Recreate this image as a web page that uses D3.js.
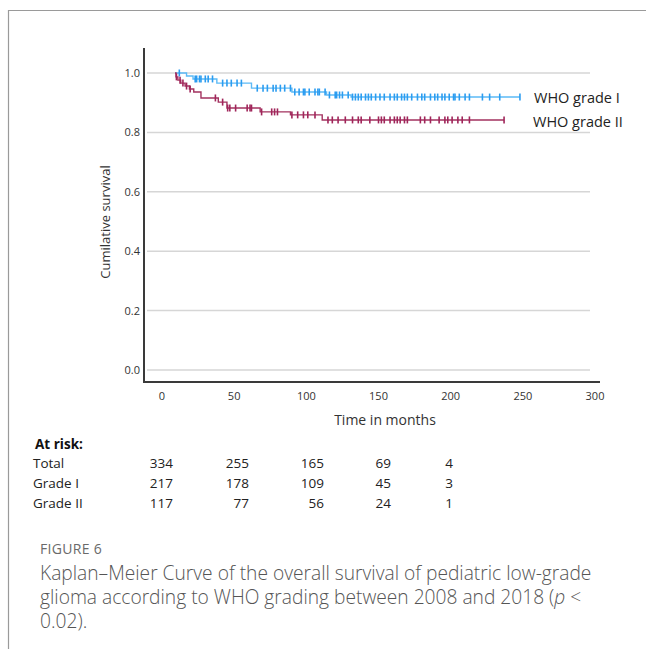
<!DOCTYPE html>
<html lang="en">
<head>
<meta charset="utf-8">
<title>Kaplan–Meier curve by WHO grade</title>
<script src="https://d3js.org/d3.v7.min.js"></script>
<style>
  html,body{margin:0;background:#fff}
  svg{display:block}
  .tick-lab{font:11px "Open Sans",sans-serif;fill:#333}
  .ax-lab{font:13px "Open Sans",sans-serif;fill:#333}
  .leg{font:14.5px "Open Sans",sans-serif;fill:#222}
  .risk{font:13.5px "Open Sans",sans-serif;fill:#222}
  .risk-head{font:bold 13.5px "Open Sans",sans-serif;fill:#111}
  .fig{font:14px "Open Sans",sans-serif;fill:#6a6a6a;letter-spacing:.3px}
  .cap{font:300 19.2px "Open Sans",sans-serif;fill:#555}
</style>
</head>
<body>
<svg id="chart" width="646" height="649"></svg>
<script>
// --- data (months, survival proportion) ---
const xTicks=[0,50,100,150,200,250,300];
const yTicks=[0,0.2,0.4,0.6,0.8,1.0];

const gradeISteps=[[9,1],[17,.99],[21.5,.98],[38,.966],[62,.949],[90,.936],[114,.926],[131,.919]];
const gradeIEnd=248;
const gradeICensor=[12,23,24,26,27,30,32,35,42,45,48,52,55,66,70,73,77,79,82,85,89,92,95,98,99,102,106,108,109,113,116,120,121,123,125,129,132,134,136,138,141,143,145,148,151,154,158,161,163,166,168,170,173,177,180,182,186,189,191,194,196,199,202,203,206,210,213,222,227,234,248];

const gradeIISteps=[[9,1],[9.7,.987],[11,.976],[13,.966],[16,.956],[19,.946],[22,.936],[27,.916],[39,.902],[45,.882],[68,.869],[89,.859],[111,.842]];
const gradeIIEnd=237;
const gradeIICensor=[10,12.5,14.5,17,19.5,37,42,45.5,47,51,59,61,62,69,76,78,80,90,94,98,101,106,115,118,122,127,132,136,138,144,150,152,154,158,161,163,165,168,170,179,182,186,192,196,198,201,205,208,213,237];

const seriesNames=['WHO grade I','WHO grade II'];

const riskTimes=[0,50,100,150,200];
const riskRows=['Total','Grade I','Grade II'];
const riskTotal=[334,255,165,69,4];
const riskGradeI=[217,178,109,45,3];
const riskGradeII=[117,77,56,24,1];

const captionHead='FIGURE 6';
const captionLines=['Kaplan–Meier Curve of the overall survival of pediatric low-grade','glioma according to WHO grading between 2008 and 2018 (','0.02).'];

// --- layout ---
const svg=d3.select('#chart');
const x=d3.scaleLinear().domain([0,300]).range([162,595]);
const y=d3.scaleLinear().domain([0,1]).range([370,73]);
const axL=144,axB=382,axT=48;

// frame
svg.append('path').attr('d','M8.5,649V10.5H646').attr('fill','none').attr('stroke','#9a9a9a').attr('stroke-width',1.2);

// grid
svg.append('g').selectAll('line').data(yTicks).join('line')
  .attr('x1',147).attr('x2',590).attr('y1',d=>y(d)).attr('y2',d=>y(d))
  .attr('stroke','#d6d6d6').attr('stroke-width',1.5);

// axes lines
svg.append('path').attr('d',`M${axL},${axT}V${axB}H600`).attr('fill','none').attr('stroke','#3a3a3a').attr('stroke-width',2);

svg.append('g').selectAll('text').data(yTicks).join('text').attr('class','tick-lab')
  .attr('x',140).attr('y',d=>y(d)+4).attr('text-anchor','end').text(d3.format('.1f'));
svg.append('g').selectAll('text').data(xTicks).join('text').attr('class','tick-lab')
  .attr('x',d=>x(d)).attr('y',400).attr('text-anchor','middle').text(d=>d);

svg.append('text').attr('class','ax-lab').attr('text-anchor','middle')
  .attr('transform','translate(110,222) rotate(-90)').text('Cumilative survival');
svg.append('text').attr('class','ax-lab').attr('style','font-size:14px')
  .attr('x',385).attr('y',425).attr('text-anchor','middle').text('Time in months');

// curves
function survAt(steps,t){let s=steps[0][1];steps.forEach(p=>{if(p[0]<=t)s=p[1]});return s}
const line=d3.line().x(d=>x(d[0])).y(d=>y(d[1])).curve(d3.curveStepAfter);
const series=[
  {steps:gradeISteps,end:gradeIEnd,censor:gradeICensor,line:'#5cbaf6',mark:'#2b9cf0'},
  {steps:gradeIISteps,end:gradeIIEnd,censor:gradeIICensor,line:'#a3325f',mark:'#a0255a'}
];
series.forEach(s=>{
  const pts=s.steps.concat([[s.end,s.steps[s.steps.length-1][1]]]);
  svg.append('path').attr('d',line(pts)).attr('fill','none').attr('stroke',s.line).attr('stroke-width',1.4);
  svg.append('g').selectAll('line').data(s.censor).join('line')
    .attr('x1',d=>x(d)).attr('x2',d=>x(d))
    .attr('y1',d=>y(survAt(s.steps,d))-3.5).attr('y2',d=>y(survAt(s.steps,d))+3.5)
    .attr('stroke',s.mark).attr('stroke-width',1.6);
});

// legend labels at line ends
svg.append('text').attr('class','leg').attr('x',534).attr('y',103).text(seriesNames[0]);
svg.append('text').attr('class','leg').attr('x',533).attr('y',127).text(seriesNames[1]);

// at-risk table
const riskCol=d3.scaleOrdinal().domain(riskTimes).range([173,249,324,391,453]);
svg.append('text').attr('class','risk-head').attr('x',35).attr('y',449).text('At risk:');
[riskTotal,riskGradeI,riskGradeII].forEach((row,i)=>{
  const yy=468+i*20;
  svg.append('text').attr('class','risk').attr('x',33).attr('y',yy).text(riskRows[i]);
  svg.append('g').selectAll('text').data(row).join('text').attr('class','risk')
    .attr('x',(d,j)=>riskCol(riskTimes[j])).attr('y',yy).attr('text-anchor','end').text(d=>d);
});

// caption
svg.append('text').attr('class','fig').attr('x',40).attr('y',554).text(captionHead);
svg.append('text').attr('class','cap').attr('x',40).attr('y',580).text(captionLines[0]);
const l2=svg.append('text').attr('class','cap').attr('x',40).attr('y',604);
l2.append('tspan').text(captionLines[1]);
l2.append('tspan').attr('font-style','italic').text('p');
l2.append('tspan').text(' <');
svg.append('text').attr('class','cap').attr('x',40).attr('y',628).text(captionLines[2]);
</script>
</body>
</html>
